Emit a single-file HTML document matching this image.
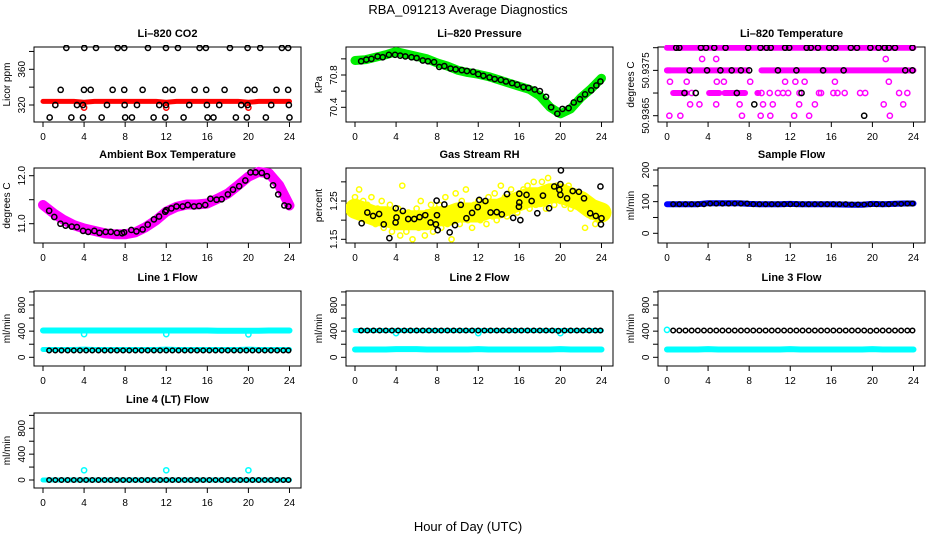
<!DOCTYPE html>
<html><head><meta charset="utf-8"><style>
body{margin:0;background:#fff;}
svg{display:block;font-family:"Liberation Sans",sans-serif;}
</style></head><body>
<svg id="chart" width="936" height="540" viewBox="0 0 936 540" xmlns="http://www.w3.org/2000/svg">
<rect width="936" height="540" fill="#fff"/>
<text x="468" y="14" font-size="13" text-anchor="middle">RBA_091213  Average Diagnostics</text>
<text x="468" y="531" font-size="13" text-anchor="middle">Hour of Day (UTC)</text>
</svg>
<script>
// ---- data ----
const hoursHourly = [0,1,2,3,4,5,6,7,8,9,10,11,12,13,14,15,16,17,18,19,20,21,22,23,24];
const co2Red = [324,324,324,324,323,324,324,324,324,324,324,324,323,324,324,324,324,324,324,324,323,324,324,324,324];
const co2DipH = [4.0,12.0,20.0];
const co2DipV = [317,317,317];
const co2BlackH = [2.27,4.02,5.16,7.27,7.91,10.22,11.97,13.14,15.25,15.86,18.2,19.92,21.15,23.26,23.87,1.72,3.99,4.64,6.78,7.91,9.7,11.91,12.62,14.76,15.89,17.68,19.92,20.6,22.74,23.87,1.2,3.31,3.89,6.23,7.95,9.15,11.32,11.97,14.24,15.96,17.16,19.3,19.92,22.22,23.94,0.65,2.76,3.89,5.71,8.0,8.66,10.77,11.9,13.69,16.02,16.6,18.78,19.85,21.7,24.0];
const co2BlackV = [384,384,384,384,384,384,384,384,384,384,384,384,384,384,384,337,337,337,337,337,337,337,337,337,337,337,337,337,337,337,320,320,320,320,320,320,320,320,320,320,320,320,320,320,320,306,306,306,306,306,306,306,306,306,306,306,306,306,306,306];
const pressGreen = [70.98,70.99,71.02,71.05,71.09,71.06,71.03,71.00,70.95,70.91,70.86,70.83,70.81,70.78,70.74,70.70,70.66,70.62,70.54,70.40,70.32,70.38,70.52,70.63,70.76];
const pressBlackH = [0.6,1.1,1.6,2.2,2.7,3.3,3.9,4.4,4.9,5.5,6.0,6.6,7.1,7.7,8.2,8.7,9.3,9.8,10.4,10.9,11.5,12.0,12.5,13.1,13.6,14.2,14.7,15.3,15.8,16.4,16.9,17.5,18.0,18.6,19.1,19.7,20.2,20.8,21.3,21.9,22.4,23.0,23.5,23.9];
const pressBlackV = [70.97,70.99,71.00,71.03,71.02,71.05,71.05,71.04,71.03,71.02,71.01,70.98,70.97,70.96,70.90,70.91,70.88,70.87,70.86,70.85,70.84,70.81,70.79,70.77,70.75,70.74,70.72,70.70,70.68,70.65,70.64,70.62,70.60,70.53,70.40,70.32,70.38,70.39,70.46,70.50,70.56,70.61,70.67,70.72];
const ambMagenta = [11.39,11.22,11.08,10.97,10.90,10.85,10.80,10.78,10.78,10.82,10.93,11.07,11.25,11.35,11.40,11.40,11.42,11.52,11.63,11.80,11.98,12.08,12.05,11.80,11.38];
const ambBlackH = [0.6,1.1,1.7,2.2,2.8,3.3,3.9,4.4,5.0,5.5,6.1,6.6,7.2,7.7,7.9,8.6,9.1,9.7,10.2,10.8,11.3,11.9,12.0,12.5,13.0,13.6,14.1,14.7,15.2,15.8,16.3,16.9,17.4,18.0,18.5,19.1,19.7,20.2,20.7,21.3,21.8,22.4,22.9,23.5,23.9];
const ambBlackV = [11.27,11.14,11.00,10.96,10.94,10.93,10.85,10.83,10.85,10.81,10.83,10.83,10.81,10.80,10.82,10.87,10.84,10.88,10.98,11.09,11.15,11.25,11.28,11.32,11.36,11.36,11.39,11.36,11.37,11.39,11.52,11.50,11.51,11.61,11.71,11.78,11.90,12.07,12.07,12.06,11.99,11.80,11.61,11.38,11.36];
const rhYellow = [1.26,1.23,1.28,1.22,1.25,1.20,1.24,1.21,1.26,1.22,1.19,1.23,1.20,1.25,1.18,1.22,1.19,1.24,1.17,1.21,1.19,1.23,1.16,1.29,1.20,1.17,1.22,1.19,1.15,1.21,1.23,1.18,1.25,1.20,1.16,1.22,1.19,1.24,1.17,1.21,1.20,1.24,1.18,1.22,1.26,1.19,1.23,1.15,1.21,1.27,1.22,1.19,1.25,1.21,1.28,1.20,1.23,1.18,1.24,1.22,1.25,1.20,1.24,1.22,1.19,1.26,1.23,1.21,1.27,1.20,1.24,1.29,1.22,1.26,1.21,1.25,1.28,1.23,1.26,1.22,1.27,1.24,1.28,1.25,1.29,1.23,1.26,1.30,1.24,1.27,1.25,1.30,1.27,1.23,1.31,1.26,1.28,1.24,1.29,1.27,1.25,1.28,1.24,1.26,1.29,1.23,1.27,1.25,1.24,1.26,1.23,1.25,1.18,1.22,1.24,1.21,1.23,1.19,1.22,1.20];
const rhYellowMean = [1.23,1.22,1.21,1.21,1.20,1.20,1.20,1.20,1.21,1.21,1.22,1.22,1.22,1.23,1.23,1.24,1.25,1.26,1.26,1.27,1.27,1.26,1.25,1.23,1.22];
const rhBlackH = [0.65,1.2,1.76,2.35,2.8,3.35,3.97,3.95,4.04,4.66,5.18,5.77,6.29,6.84,7.36,7.88,7.98,7.95,8.05,8.7,9.22,9.74,10.3,10.85,11.4,11.95,12.1,12.7,13.2,13.8,14.3,14.8,15.4,15.96,16.0,16.0,16.1,16.7,17.2,17.75,18.3,18.9,19.4,19.9,20.0,20.0,20.05,20.65,21.2,21.8,22.3,22.9,23.45,24.0,23.95,23.9];
const rhBlackV = [1.192,1.22,1.211,1.216,1.189,1.153,1.231,1.194,1.207,1.224,1.203,1.203,1.208,1.213,1.194,1.189,1.213,1.251,1.174,1.241,1.168,1.187,1.24,1.205,1.219,1.234,1.253,1.25,1.22,1.221,1.215,1.268,1.206,1.235,1.246,1.269,1.2,1.266,1.25,1.218,1.264,1.231,1.288,1.279,1.294,1.266,1.33,1.257,1.276,1.274,1.257,1.218,1.211,1.205,1.189,1.288];
const ltRunStart = [0.0,8.2,0.0,9.2,0.6,4.1,5.6,8.8,0.0];
const ltRunEnd   = [7.9,24.0,7.8,24.0,1.9,5.1,7.6,8.9,0.3];
const ltRunLevel = [50.9380,50.9380,50.9375,50.9375,50.9370,50.9370,50.9370,50.9370,50.9375];
const ltMagH = [3.42,4.79,21.3,0.29,1.92,4.85,5.54,8.1,11.5,12.5,13.4,16.35,21.6,2.4,9.2,10.0,10.8,11.3,11.8,12.9,14.8,15.0,16.2,16.6,17.3,18.8,19.3,22.6,23.4,2.25,3.16,4.79,7.07,9.35,10.3,12.87,14.4,21.1,23.0,0.23,1.3,7.3,9.12,10.06,12.38,13.84,21.7];
const ltMagV = [50.93775,50.93775,50.93775,50.93725,50.93725,50.93725,50.93725,50.93725,50.93725,50.93725,50.93725,50.93725,50.93725,50.9370,50.9370,50.9370,50.9370,50.9370,50.9370,50.9370,50.9370,50.9370,50.9370,50.9370,50.9370,50.9370,50.9370,50.9370,50.9370,50.93675,50.93675,50.93675,50.93675,50.93675,50.93675,50.93675,50.93675,50.93675,50.93675,50.9365,50.9365,50.9365,50.9365,50.9365,50.9365,50.9365,50.9365];
const ltBlackH = [0.9,1.2,3.3,3.8,4.6,5.7,7.9,9.1,9.7,10.1,11.5,11.9,13.6,14.0,14.7,15.8,16.4,17.9,18.5,19.8,20.6,21.2,21.6,22.2,23.9,2.2,3.9,5.2,6.3,7.2,8.0,10.8,12.6,15.2,17.2,23.2,23.9,1.7,2.8,6.8,13.1,8.5,19.2];
const ltBlackV = [50.9380,50.9380,50.9380,50.9380,50.9380,50.9380,50.9380,50.9380,50.9380,50.9380,50.9380,50.9380,50.9380,50.9380,50.9380,50.9380,50.9380,50.9380,50.9380,50.9380,50.9380,50.9380,50.9380,50.9380,50.9380,50.9375,50.9375,50.9375,50.9375,50.9375,50.9375,50.9375,50.9375,50.9375,50.9375,50.9375,50.9375,50.9370,50.9370,50.9370,50.9370,50.93675,50.9365];
const blackH = [0.6,1.2,1.8,2.4,3.0,3.6,4.2,4.8,5.4,6.0,6.6,7.2,7.8,8.4,9.0,9.6,10.2,10.8,11.4,12.0,12.6,13.2,13.8,14.4,15.0,15.6,16.2,16.8,17.4,18.0,18.6,19.2,19.8,20.4,21.0,21.6,22.2,22.8,23.4,23.9];
const sampleBlue = [92,92,92,92,95,95,95,95,93,92,92,92,93,92,92,92,92,91,90,90,93,92,93,94,94];
const sampleBlack = [92,92,92,92,92,92,94,94,94,94,94,94,94,92,92,92,92,92,92,92,92,92,92,92,92,92,92,92,92,91,91,91,92,92,92,92,93,93,94,94];
const spikeH = [4.0,12.0,20.0];
const l1Upper = [410,410,410,410,410,410,410,410,410,410,410,410,410,410,410,410,410,405,405,405,405,405,410,410,410];
const l1Spike = [355,355,350];
const l1Lower = [120,120,120,120,125,120,120,120,120,120,120,120,125,120,120,120,120,120,120,120,125,120,120,120,120];
const l1Black = [105,105,105,105,105,105,105,105,105,105,105,105,105,105,105,105,105,105,105,105,105,105,105,105,105,105,105,105,105,105,105,105,105,105,105,105,105,105,105,105];
const l2Upper = [410,410,410,410,410,410,410,410,410,410,410,410,410,410,410,410,410,410,410,410,410,410,410,410,410];
const l2Spike = [370,370,370];
const l2Lower = [120,120,120,120,125,125,125,120,120,120,120,120,125,120,120,120,120,120,120,120,125,120,120,120,120];
const l2Black = [410,410,410,410,410,410,410,410,410,410,410,410,410,410,410,410,410,410,410,410,410,410,410,410,410,410,410,410,410,410,410,410,405,410,410,410,410,410,410,410];
const l3Upper = [420];
const l3Lower = [120,120,120,120,125,120,120,120,120,120,120,120,125,120,120,120,120,120,120,120,125,120,120,120,120];
const l3Black = [410,410,410,410,410,410,410,410,410,410,410,410,410,410,410,410,410,410,410,410,410,410,410,410,410,410,410,410,410,410,410,410,405,410,410,410,410,410,410,410];
const l4Cyan = [0,0,0,0,0,0,0,0,0,0,0,0,0,0,0,0,0,0,0,0,0,0,0,0,0];
const l4Spike = [150,150,150];
const l4Black = [0,0,0,0,0,0,0,0,0,0,0,0,0,0,0,0,0,0,0,0,0,0,0,0,0,0,0,0,0,0,0,0,0,0,0,0,0,0,0,0];
const xTickLabels = ['0','4','8','12','16','20','24'];

// ---- drawing ----
const svg = document.getElementById('chart');
const NS = 'http://www.w3.org/2000/svg';
const colLeft = [34, 346, 658];
const rowTop = [47, 168, 291, 413];
const boxW = 267, boxH = 75;
function mk(tag, attrs, parent) {
  const e = document.createElementNS(NS, tag);
  for (const k in attrs) e.setAttribute(k, attrs[k]);
  (parent || svg).appendChild(e);
  return e;
}
function panel(name, col, row, title, ylab, v1, y1, v2, y2, ticks, labelled) {
  const g = mk('g', {});
  
  
  const L = colLeft[col], T = rowTop[row];
  const x = h => L + 9 + h * 10.27;
  const y = v => T + y1 + (v - v1) * (y2 - y1) / (v2 - v1);
  const box = mk('rect', {x: L, y: T, width: boxW, height: boxH, fill: 'none', stroke: '#000', 'stroke-width': 1}, g);
  
  
  const t = mk('text', {x: L + boxW / 2, y: T - 10, 'font-size': 11, 'font-weight': 'bold', 'text-anchor': 'middle'}, g);
  t.textContent = title;
  
  
  const yl = mk('text', {transform: `translate(${L - 24},${T + boxH / 2}) rotate(-90)`, 'font-size': 10, 'text-anchor': 'middle'}, g);
  yl.textContent = ylab;
  
  
  xTickLabels.forEach(lbl => {
    const xx = x(+lbl);
    mk('line', {x1: xx, x2: xx, y1: T + boxH, y2: T + boxH + 5, stroke: '#000'}, g);
    const tl = mk('text', {x: xx, y: T + boxH + 18, 'font-size': 10, 'text-anchor': 'middle'}, g);
    tl.textContent = lbl;
    
    
  });
  ticks.forEach((tv, i) => {
    const yy = y(tv);
    mk('line', {x1: L - 5, x2: L, y1: yy, y2: yy, stroke: '#000'}, g);
    if (labelled[i]) {
      const tl = mk('text', {transform: `translate(${L - 9},${yy}) rotate(-90)`, 'font-size': 10, 'text-anchor': 'middle'}, g);
      tl.textContent = labelled[i];
      
      
    }
  });
  const clip = 'clip' + name;
  const cp = mk('clipPath', {id: clip}, g);
  mk('rect', {x: L, y: T - 2, width: boxW, height: boxH + 4}, cp);
  const marks = mk('g', {'clip-path': `url(#${clip})`}, g);
  
  
  return {x, y, g: marks};
}
function band(p, hs, vs, color, w, nm) {
  const d = hs.map((h, i) => (i ? 'L' : 'M') + p.x(h).toFixed(1) + ',' + p.y(vs[i]).toFixed(1)).join('');
  const e = mk('path', {d, fill: 'none', stroke: color, 'stroke-width': w, 'stroke-linejoin': 'round', 'stroke-linecap': 'round'}, p.g);
  
  
}
function pts(p, hs, vs, color, nm, r) {
  hs.forEach((h, i) => {
    const c = mk('circle', {cx: p.x(h), cy: p.y(vs[i]), r: r || 2.6, fill: 'none', stroke: color, 'stroke-width': 1.5}, p.g);
    
    
  });
}

// CO2
let p = panel('co2', 0, 0, 'Li\u2013820 CO2', 'Licor ppm', 320, 58, 360, 22.3, [320,340,360,380], ['320','','360','']);
band(p, hoursHourly, co2Red, '#ff0000', 5, 'co2-red-series');
pts(p, co2DipH, co2DipV, '#ff0000', 'co2-red-point');
pts(p, co2BlackH, co2BlackV, '#000', 'co2-black-point');

// Pressure
p = panel('pressure', 1, 0, 'Li\u2013820 Pressure', 'kPa', 70.4, 60.3, 70.8, 28, [70.4,70.6,70.8,71.0], ['70.4','','70.8','']);
band(p, hoursHourly, pressGreen, '#00ee00', 9, 'pressure-green-series');
pts(p, pressBlackH, pressBlackV, '#000', 'pressure-black-point');

// Li-820 temperature
p = panel('li820-temp', 2, 0, 'Li\u2013820 Temperature', 'degrees C', 50.9365, 68.7, 50.9380, 0.7, [50.9365,50.9370,50.9375,50.9380], ['50.9365','','50.9375','']);
ltRunStart.forEach((s, i) => {
  const e = mk('line', {x1: p.x(s), x2: p.x(ltRunEnd[i]), y1: p.y(ltRunLevel[i]), y2: p.y(ltRunLevel[i]), stroke: '#ff00ff', 'stroke-width': 6, 'stroke-linecap': 'round'}, p.g);
  
  
});
pts(p, ltMagH, ltMagV, '#ff00ff', 'li820-temp-magenta-point');
pts(p, ltBlackH, ltBlackV, '#000', 'li820-temp-black-point');

// Ambient
p = panel('ambient-temp', 0, 1, 'Ambient Box Temperature', 'degrees C', 12.0, 7.7, 11.0, 55.7, [11.0,11.5,12.0], ['11.0','','12.0']);
band(p, hoursHourly, ambMagenta, '#ff00ff', 10, 'ambient-magenta-series');
pts(p, ambBlackH, ambBlackV, '#000', 'ambient-black-point');

// RH
p = panel('rh', 1, 1, 'Gas Stream RH', 'percent', 1.25, 33, 1.15, 71.3, [1.15,1.20,1.25,1.30], ['1.15','','1.25','']);
band(p, hoursHourly, rhYellowMean, '#ffff00', 20, 'rh-yellow-band');
pts(p, rhYellow.map((v, i) => i * 0.2), rhYellow, '#ffff00', 'rh-yellow-point');
pts(p, rhBlackH, rhBlackV, '#000', 'rh-black-point');

// Sample flow
p = panel('sample-flow', 2, 1, 'Sample Flow', 'ml/min', 200, 2, 0, 65.3, [0,50,100,150,200], ['0','','100','','200']);
band(p, hoursHourly, sampleBlue, '#0000ff', 6, 'sample-flow-blue-series');
pts(p, blackH, sampleBlack, '#000', 'sample-flow-black-point', 2.3);

// Flow panels
const flowTicks = [0,200,400,600,800,1000], flowLabels = ['0','','400','','800',''];
p = panel('line1-flow', 0, 2, 'Line 1 Flow', 'ml/min', 0, 66.3, 800, 14, flowTicks, flowLabels);
band(p, hoursHourly, l1Upper, '#00ffff', 6, 'line1-cyan-upper');
pts(p, spikeH, l1Spike, '#00ffff', 'line1-cyan-point');
band(p, hoursHourly, l1Lower, '#00ffff', 5, 'line1-cyan-lower');
pts(p, blackH, l1Black, '#000', 'line1-black-point', 2.3);

p = panel('line2-flow', 1, 2, 'Line 2 Flow', 'ml/min', 0, 66.3, 800, 14, flowTicks, flowLabels);
band(p, hoursHourly, l2Upper, '#00ffff', 5, 'line2-cyan-upper');
pts(p, spikeH, l2Spike, '#00ffff', 'line2-cyan-point');
band(p, hoursHourly, l2Lower, '#00ffff', 6, 'line2-cyan-lower');
pts(p, blackH, l2Black, '#000', 'line2-black-point', 2.3);

p = panel('line3-flow', 2, 2, 'Line 3 Flow', 'ml/min', 0, 66.3, 800, 14, flowTicks, flowLabels);
pts(p, [0], l3Upper, '#00ffff', 'line3-cyan-point');
band(p, hoursHourly, l3Lower, '#00ffff', 6, 'line3-cyan-lower');
pts(p, blackH, l3Black, '#000', 'line3-black-point', 2.3);

p = panel('line4-flow', 0, 3, 'Line 4 (LT) Flow', 'ml/min', 0, 67, 800, 15.3, flowTicks, flowLabels);
band(p, hoursHourly, l4Cyan, '#00ffff', 5, 'line4-cyan-series');
pts(p, spikeH, l4Spike, '#00ffff', 'line4-cyan-spike');
pts(p, blackH, l4Black, '#000', 'line4-black-point', 2.3);
</script>
</body></html>
